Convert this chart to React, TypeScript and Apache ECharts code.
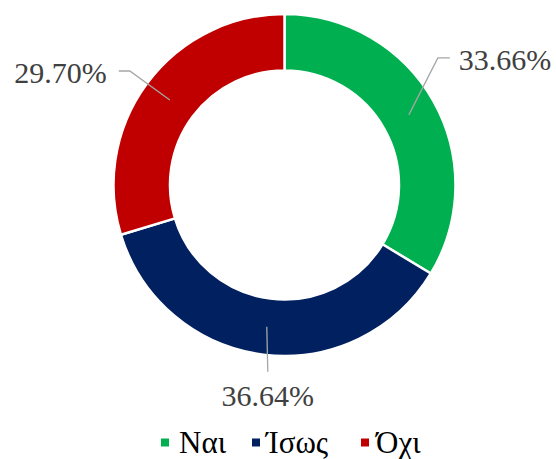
import React, { useEffect, useRef } from "react";
import * as echarts from "echarts";

const categories = ["Ναι", "Ίσως", "Όχι"];
const values = [33.66, 36.64, 29.7];
const colors = ["#00B050", "#002060", "#C00000"];

// leader-line geometry per label (layout only): elbow offset from anchor, horizontal tail, text gap
const leaders = [
  { elbow: [29, -57], tail: 12, gap: 9, align: "left" },
  { elbow: [1, 45], tail: 0, gap: 24, align: "center" },
  { elbow: [-40, -29], tail: -11, gap: -12, align: "right" },
];
// legend entry placement (layout only)
const legendLeft = [159, 250, 359];
const legendTextPad = [4, 0, 1];

const CX = 284.5;
const CY = 185;
const R_IN = 114.5;
const R_OUT = 171;
const SERIF = "'Liberation Serif', 'Times New Roman', 'DejaVu Serif', serif";

export default function App() {
  const ref = useRef<HTMLDivElement>(null);
  useEffect(() => {
    document.body.style.margin = "0";
    const chart = echarts.init(ref.current!, null, { renderer: "svg" });
    const total = values.reduce((a, b) => a + b, 0);
    const mids: number[] = [];
    let acc = 0;
    values.forEach((v) => {
      mids.push(((acc + v / 2) / total) * Math.PI * 2);
      acc += v;
    });
    const rMid = (R_IN + R_OUT) / 2;
    const data = categories.map((c, i) => ({ name: c, value: values[i] }));
    chart.setOption({
      animation: false,
      color: colors,
      legend: categories.map((c, i) => ({
        left: legendLeft[i],
        top: 427,
        padding: 0,
        icon: "rect",
        itemWidth: 10,
        itemHeight: 10,
        textStyle: {
          fontFamily: SERIF,
          fontSize: 31,
          color: "#000000",
          padding: [0, 0, 0, legendTextPad[i]],
        },
        data: [{ name: c, itemStyle: { color: colors[i] } }],
      })),
      series: [
        {
          type: "pie",
          z: 2,
          center: [CX, CY],
          radius: [R_IN, R_OUT],
          startAngle: 90,
          clockwise: true,
          avoidLabelOverlap: false,
          itemStyle: { borderColor: "#ffffff", borderWidth: 2.5 },
          label: { show: false },
          labelLine: { show: false },
          data,
        },
        {
          type: "pie",
          z: 5,
          silent: true,
          center: [CX, CY],
          radius: [R_IN, R_OUT],
          startAngle: 90,
          clockwise: true,
          avoidLabelOverlap: false,
          itemStyle: { color: "rgba(0,0,0,0)", borderWidth: 0 },
          label: {
            show: true,
            position: "outside",
            formatter: (p: any) => values[p.dataIndex].toFixed(2) + "%",
            fontFamily: SERIF,
            fontSize: 30,
            color: "#404040",
          },
          labelLine: {
            show: true,
            showAbove: true,
            lineStyle: { color: "#A6A6A6", width: 1.3 },
          },
          labelLayout: (params: any) => {
            const i = params.dataIndex;
            const a = mids[i];
            const sx = CX + Math.sin(a) * rMid;
            const sy = CY - Math.cos(a) * rMid;
            const L = leaders[i];
            const ex = sx + L.elbow[0];
            const ey = sy + L.elbow[1];
            const hx = ex + L.tail;
            const hy = ey;
            const pts = [
              [sx, sy],
              [ex, ey],
              [hx, hy],
            ];
            if (L.align === "center") {
              return {
                x: hx,
                y: hy + L.gap,
                align: "center",
                verticalAlign: "middle",
                labelLinePoints: pts,
              };
            }
            return {
              x: hx + L.gap,
              y: hy + 1.5,
              align: L.align,
              verticalAlign: "middle",
              labelLinePoints: pts,
            };
          },
          data,
        },
      ],
    });
    return () => chart.dispose();
  }, []);
  return <div ref={ref} style={{ width: 556, height: 459 }} />;
}
